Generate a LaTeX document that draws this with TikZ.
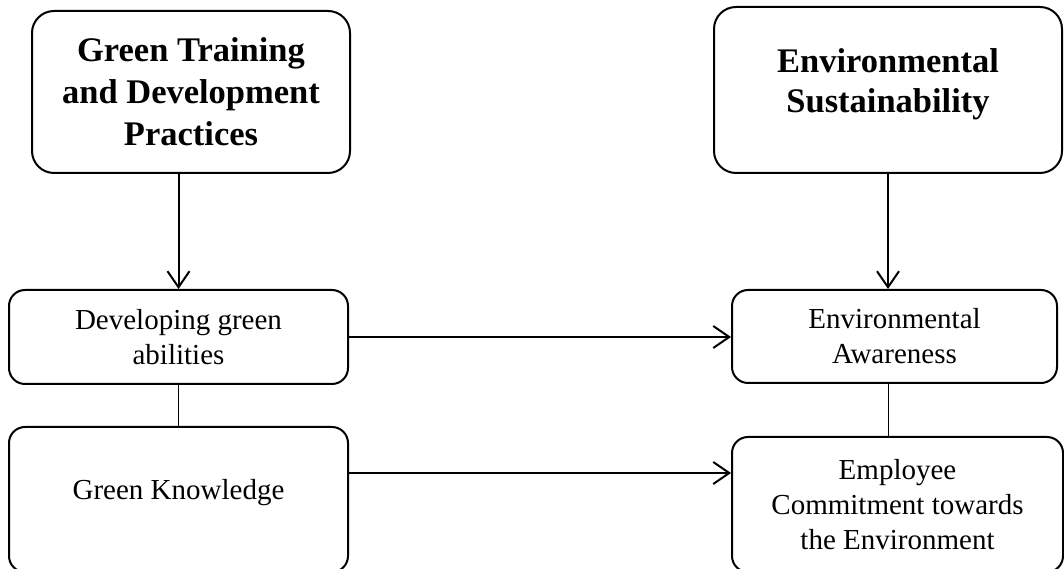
\documentclass[tikz,border=0pt]{standalone}
\usepackage{fontspec}
\setmainfont{Liberation Serif}
\usetikzlibrary{positioning, arrows.meta}

\begin{document}
\begin{tikzpicture}[x=1pt, y=1pt,
		headbox/.style={rectangle, draw, rounded corners=22pt, line width=2pt, align=center, font=\bfseries\fontsize{34.5}{42}\selectfont},
		itembox/.style={rectangle, draw, rounded corners=16pt, line width=2pt, align=center, font=\fontsize{29}{35}\selectfont},
		link/.style={line width=1pt},
		flow/.style={->, line width=2pt},
		>={Straight Barb[length=16pt, width=22pt]}
	]
	\useasboundingbox (0,0) rectangle (1064,569);

	\node[headbox, minimum width=318pt, minimum height=162pt] (gtd) at (191,477) {Green Training\\and Development\\Practices};
	\node[headbox, minimum width=348pt, minimum height=166pt] (es) at (888,479) {\raisebox{0pt}[0pt][0pt]{\parbox{330pt}{\centering Environmental\\[-2pt]Sustainability}}};
	\node[itembox, minimum width=339pt, minimum height=94pt, below=115pt of gtd, xshift=-12.5pt] (dga) {Developing green\\abilities};
	\node[itembox, minimum width=339pt, minimum height=145pt, below=41pt of dga] (gk) {\raisebox{0pt}[0pt][0pt]{Green Knowledge}};
	\node[itembox, minimum width=325pt, minimum height=93pt, below=115pt of es, xshift=6.5pt] (ea) {Environmental\\Awareness};
	\node[itembox, minimum width=331pt, minimum height=135pt, below=52pt of ea.south west, anchor=north west] (ecte) {Employee\\Commitment towards\\the Environment};

	\coordinate (gkout) at ([yshift=26.5pt]gk.east);

	\foreach \i/\j in {gtd.south -| dga.north/dga.north, es.south/es.south |- ea.north, dga.east/dga.east -| ea.west, gkout/gkout -| ecte.west}
		\draw[flow] (\i) -- (\j);

	\draw[link] (dga) -- (gk);
	\draw[link] (ea.south -| es) -- (ecte.north -| es);

\end{tikzpicture}
\end{document}
